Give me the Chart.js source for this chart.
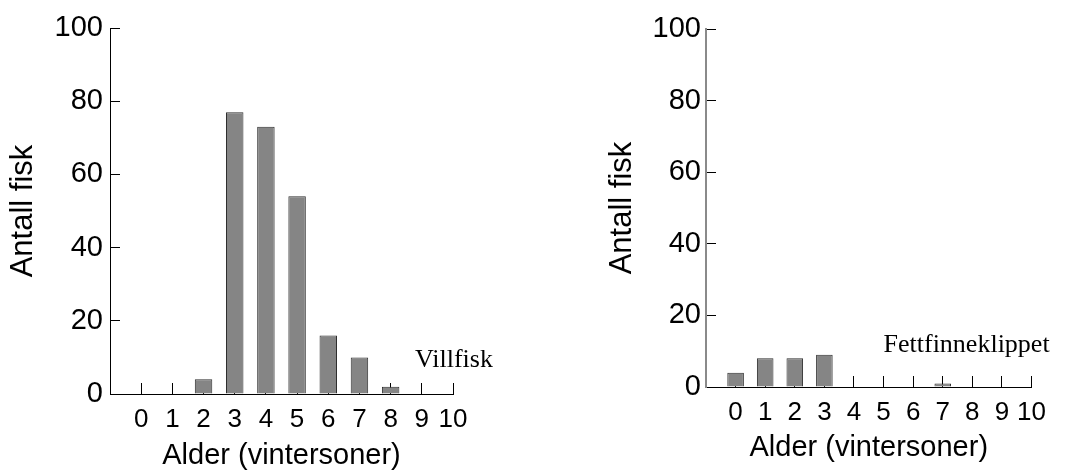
<!DOCTYPE html>
<html>
<head>
<meta charset="utf-8">
<script src="https://cdn.jsdelivr.net/npm/chart.js@4.4.1/dist/chart.umd.min.js"></script>
<style>
  html, body { margin: 0; padding: 0; background: #fff; overflow: hidden; }
  #wrap { position: relative; width: 1067px; height: 471px; }
  canvas { position: absolute; top: 0; }
  #villChart { left: 0; }
  #klippChart { left: 596px; }
</style>
</head>
<body>
<div id="wrap">
  <canvas id="villChart" width="533" height="471"></canvas>
  <canvas id="klippChart" width="471" height="471"></canvas>
</div>
<script>
// Alder i vintersoner (x-akse)
const ages = ['0', '1', '2', '3', '4', '5', '6', '7', '8', '9', '10'];
// Antall fisk per alder
const villfisk = [0, 0, 4, 77, 73, 54, 16, 10, 2, 0, 0];
const fettfinneklippet = [4, 8, 8, 9, 0, 0, 0, 1, 0, 0, 0];
// Y-akse
const yTicks = [0, 20, 40, 60, 80, 100];
const xTitle = 'Alder (vintersoner)';
const yTitle = 'Antall fisk';

Chart.defaults.font.family = "'Liberation Sans', Arial, Helvetica, sans-serif";
Chart.defaults.color = '#000';

// Tekstetikett for fiskegruppen, plassert ut fra plotteområdet
const groupLabel = {
  id: 'groupLabel',
  afterDatasetsDraw(chart, args, opts) {
    const { ctx, chartArea } = chart;
    ctx.save();
    ctx.font = "26px 'Liberation Serif', 'Times New Roman', serif";
    ctx.fillStyle = '#000';
    ctx.textAlign = 'left';
    ctx.textBaseline = 'alphabetic';
    ctx.fillText(opts.text, chartArea.right - opts.fromRight, chartArea.bottom - opts.above);
    ctx.restore();
  }
};

function makeChart(id, values, cfg) {
  // en tom kategori foran alder 0 gir luft mellom y-aksen og første søyle
  const labels = [''].concat(ages);
  const data = [null].concat(values);
  return new Chart(document.getElementById(id), {
    type: 'bar',
    data: {
      labels: labels,
      datasets: [{
        data: data,
        backgroundColor: '#858585',
        borderColor: '#2e2e2e',
        borderWidth: 1,
        categoryPercentage: 1,
        barPercentage: 0.56
      }]
    },
    options: {
      responsive: false,
      animation: false,
      devicePixelRatio: 1,
      layout: { padding: cfg.padding },
      plugins: {
        legend: { display: false },
        tooltip: { enabled: false },
        groupLabel: { text: cfg.label, fromRight: cfg.fromRight, above: cfg.above }
      },
      scales: {
        x: {
          type: 'category',
          offset: false,
          grid: {
            offset: false,
            drawOnChartArea: false,
            drawTicks: true,
            tickLength: -11,
            color: '#000',
            lineWidth: 1
          },
          border: { display: true, color: '#000', width: 1 },
          ticks: {
            autoSkip: false,
            maxRotation: 0,
            minRotation: 0,
            padding: 21,
            font: { size: 26 },
            color: '#000'
          },
          title: {
            display: true,
            text: xTitle,
            font: { size: 29 },
            color: '#000',
            padding: { top: 0, bottom: cfg.xTitlePad }
          },
          afterFit(scale) { scale.height = cfg.xHeight; }
        },
        y: {
          min: 0,
          max: 100,
          grid: {
            drawOnChartArea: false,
            drawTicks: true,
            tickLength: -10,
            color: '#000',
            lineWidth: 1
          },
          border: { display: true, color: cfg.yBorderColor, width: cfg.yBorderWidth },
          ticks: {
            padding: cfg.yTickPad,
            font: { size: 29 },
            color: '#000'
          },
          afterBuildTicks(scale) { scale.ticks = yTicks.map(v => ({ value: v })); },
          title: {
            display: true,
            text: yTitle,
            font: { size: 31 },
            color: '#000',
            padding: { top: cfg.yTitlePad, bottom: 0 }
          },
          afterFit(scale) {
            scale.width = cfg.yWidth;
            // plotteområdet styres av layout-paddingen alene
            scale.paddingTop = 0;
            scale.paddingBottom = 0;
          }
        }
      }
    },
    plugins: [groupLabel]
  });
}

makeChart('villChart', villfisk, {
  padding: { left: 0, right: 80, top: 28, bottom: 0 },
  yWidth: 110, xHeight: 77,
  yTickPad: 17, yTitlePad: 5, xTitlePad: -2,
  yBorderColor: '#000', yBorderWidth: 1,
  label: 'Villfisk', fromRight: 38, above: 27
});

makeChart('klippChart', fettfinneklippet, {
  padding: { left: 0, right: 24, top: 29, bottom: 0 },
  yWidth: 110, xHeight: 84,
  yTickPad: 15, yTitlePad: 8, xTitlePad: 6,
  yBorderColor: '#8a8a8a', yBorderWidth: 2,
  label: 'Fettfinneklippet', fromRight: 148, above: 35
});
</script>
</body>
</html>
